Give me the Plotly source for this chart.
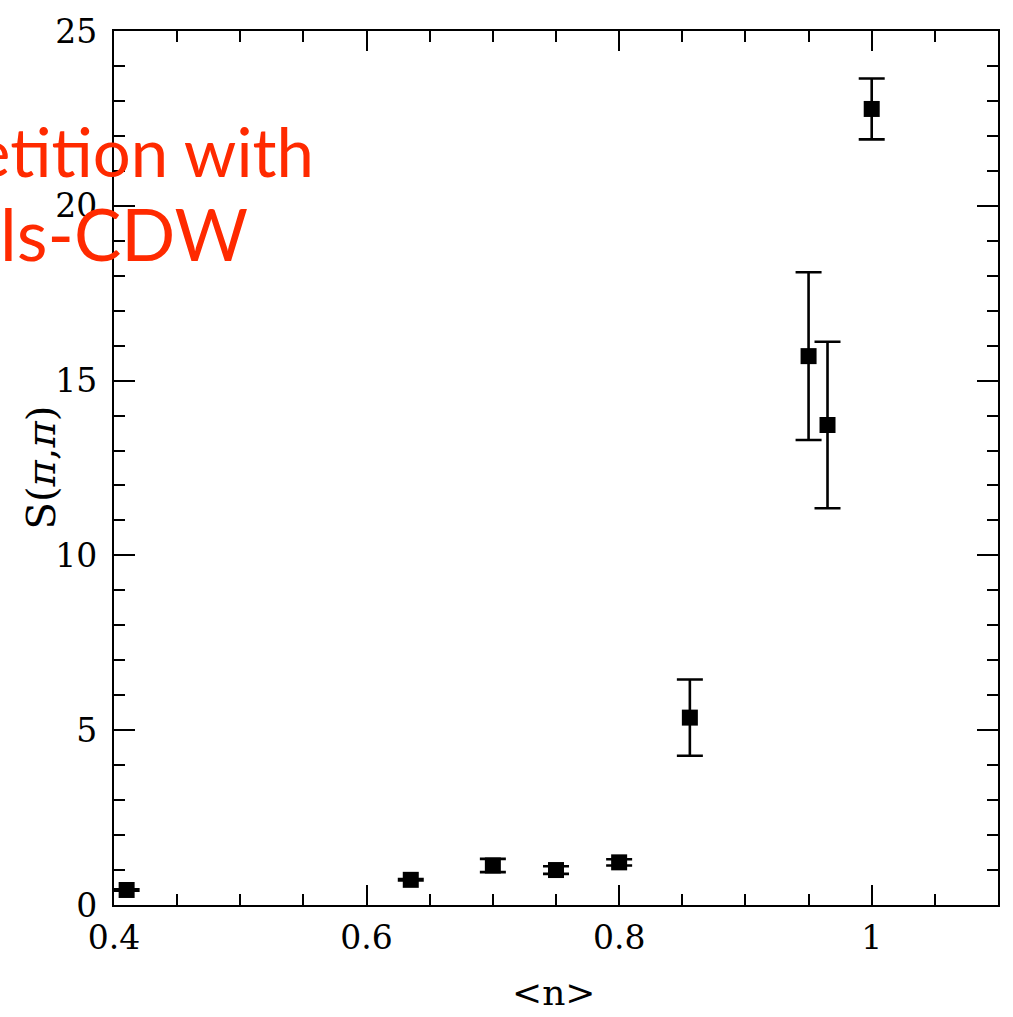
import plotly.graph_objects as go

# Filling <n> and the staggered structure factor S(pi, pi) with its statistical errors
filling = [0.41, 0.635, 0.70, 0.75, 0.80, 0.856, 0.95, 0.965, 1.00]
s_pipi = [0.43, 0.72, 1.13, 1.00, 1.22, 5.36, 15.7, 13.73, 22.77]
s_err = [0.02, 0.02, 0.19, 0.11, 0.09, 1.09, 2.4, 2.38, 0.87]

x_ticks = [0.4, 0.6, 0.8, 1.0]
x_tick_text = ["0.4", "0.6", "0.8", "1"]
y_ticks = [0, 5, 10, 15, 20, 25]

red_lines = ["etition with", "ls-CDW"]
red_sizes = [67, 71]

W, H = 1013, 1017
L, R, T, B = 114, 15, 28, 112

fig = go.Figure()
fig.add_trace(go.Scatter(
    x=filling, y=s_pipi, mode="markers",
    marker=dict(symbol="square", size=16, color="black"),
    error_y=dict(type="data", array=s_err, visible=True,
                 color="black", thickness=2.6, width=13),
    cliponaxis=False,
    showlegend=False,
))

tick_font = dict(family="DejaVu Serif", size=33, color="black")

fig.update_xaxes(
    range=[0.4, 1.1], tickvals=x_ticks, ticktext=x_tick_text,
    ticks="inside", ticklen=20, tickwidth=2.2, tickcolor="black",
    minor=dict(dtick=0.05, tick0=0.4, ticks="inside", ticklen=11,
               tickwidth=2.2, tickcolor="black"),
    showline=True, linewidth=2.4, linecolor="black", mirror="allticks",
    showgrid=False, zeroline=False, tickfont=tick_font,
    ticklabelstandoff=2,
)
fig.update_yaxes(
    range=[0, 25], tickvals=y_ticks,
    ticks="inside", ticklen=21, tickwidth=2.2, tickcolor="black",
    minor=dict(dtick=1, tick0=0, ticks="inside", ticklen=11,
               tickwidth=2.2, tickcolor="black"),
    showline=True, linewidth=2.4, linecolor="black", mirror="allticks",
    showgrid=False, zeroline=False, tickfont=tick_font,
    ticklabelstandoff=8,
)

plot_w = W - L - R
plot_h = H - T - B

def px_x(p):
    return (p - L) / plot_w

def px_y(p):
    return (H - B - p) / plot_h

annotations = [
    # axis titles
    dict(text="&lt;n&gt;", x=px_x(554), y=px_y(993), xref="paper", yref="paper",
         showarrow=False, xanchor="center", yanchor="middle",
         font=dict(family="DejaVu Serif", size=36, color="black")),
    dict(text="S(<i>π</i>,<i>π</i>)", x=px_x(41), y=px_y(466), xref="paper", yref="paper",
         showarrow=False, xanchor="center", yanchor="middle", textangle=-90,
         font=dict(family="DejaVu Serif", size=40, color="black")),
]
# red overlay caption
for txt, size, mid_y, right_x in zip(red_lines, red_sizes, [148, 231], [316, 250]):
    annotations.append(dict(
        text=txt, x=px_x(right_x), y=px_y(mid_y), xref="paper", yref="paper",
        showarrow=False, xanchor="right", yanchor="middle",
        font=dict(family="Lato", size=size, color="#ff2a00"),
    ))

fig.update_layout(
    width=W, height=H,
    margin=dict(l=L, r=R, t=T, b=B),
    paper_bgcolor="white", plot_bgcolor="white",
    annotations=annotations,
)

fig.write_html("out.html")
